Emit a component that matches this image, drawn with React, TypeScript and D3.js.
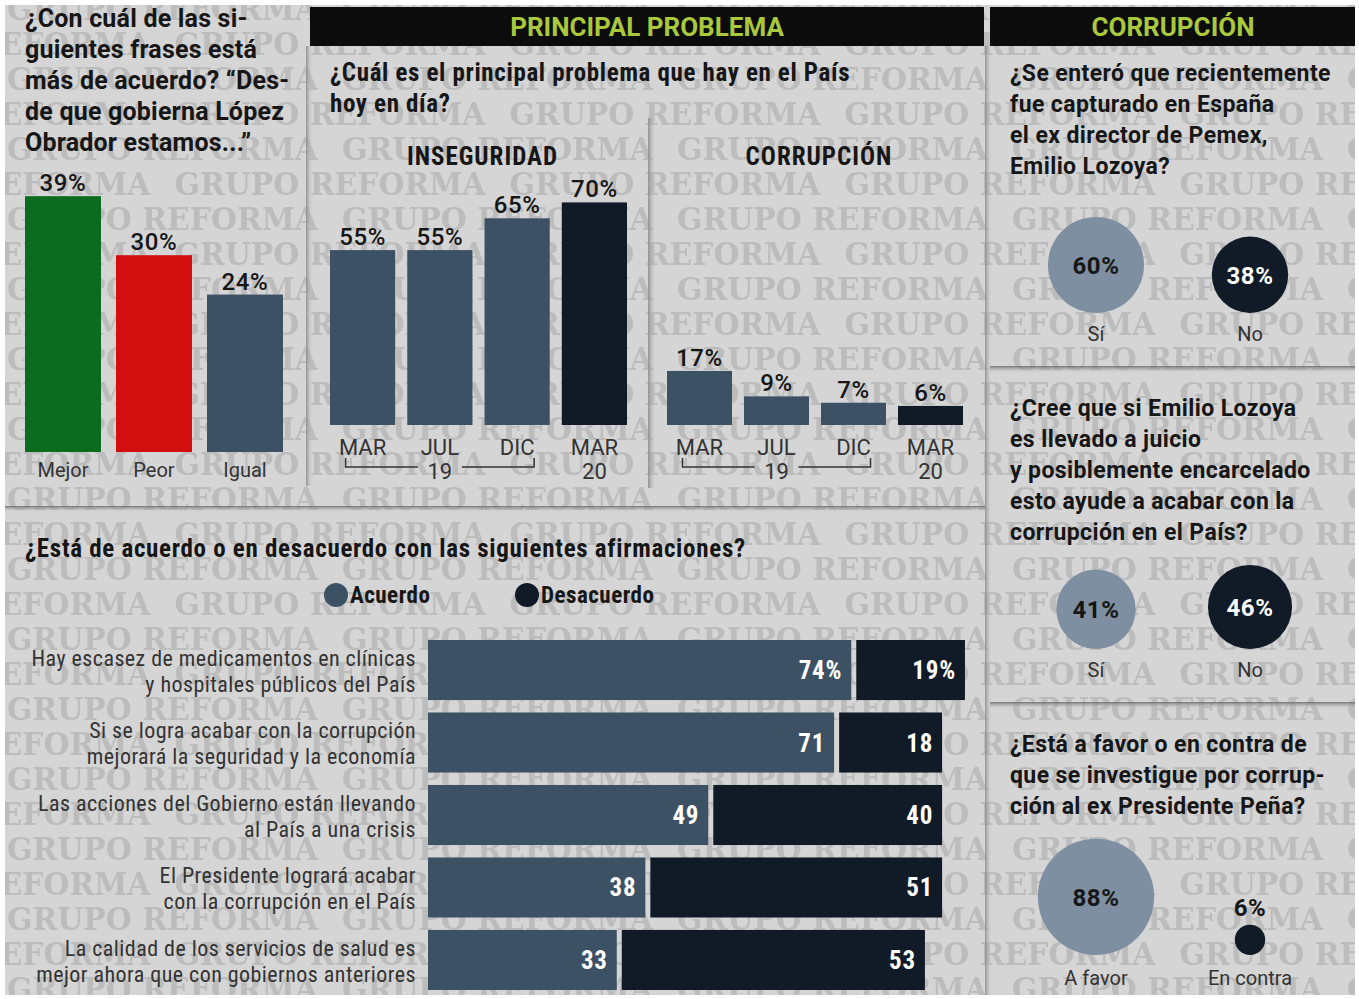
import * as d3 from "d3"

const W = 1359
const H = 999

// left panel
const verdictQuestion = [
  "¿Con cuál de las si-",
  "guientes frases está",
  "más de acuerdo? “Des-",
  "de que gobierna López",
  "Obrador estamos...”",
]
const verdictCats = ["Mejor", "Peor", "Igual"]
const verdictVals = [39, 30, 24]

// principal problema
const problemQuestion = ["¿Cuál es el principal problema que hay en el País", "hoy en día?"]
const periods = ["MAR", "JUL", "DIC", "MAR"]
const inseguridadVals = [55, 55, 65, 70]
const corrupcionVals = [17, 9, 7, 6]

// afirmaciones
const statementQuestion = "¿Está de acuerdo o en desacuerdo con las siguientes afirmaciones?"
const statements = [
  ["Hay escasez de medicamentos en clínicas", "y hospitales públicos del País"],
  ["Si se logra acabar con la corrupción", "mejorará la seguridad y la economía"],
  ["Las acciones del Gobierno están llevando", "al País a una crisis"],
  ["El Presidente logrará acabar", "con la corrupción en el País"],
  ["La calidad de los servicios de salud es", "mejor ahora que con gobiernos anteriores"],
]
const acuerdoVals = [74, 71, 49, 38, 33]
const desacuerdoVals = [19, 18, 40, 51, 53]

// corrupción (bubbles)
const capturaQuestion = [
  "¿Se enteró que recientemente",
  "fue capturado en España",
  "el ex director de Pemex,",
  "Emilio Lozoya?",
]
const capturaVals = [60, 38]
const capturaCats = ["Sí", "No"]
const juicioQuestion = [
  "¿Cree que si Emilio Lozoya",
  "es llevado a juicio",
  "y posiblemente encarcelado",
  "esto ayude a acabar con la",
  "corrupción en el País?",
]
const juicioVals = [41, 46]
const juicioCats = ["Sí", "No"]
const penaQuestion = [
  "¿Está a favor o en contra de",
  "que se investigue por corrup-",
  "ción al ex Presidente Peña?",
]
const penaVals = [88, 6]
const penaCats = ["A favor", "En contra"]

const BG = "#d5d5d5"
const WM = "#bcbcbc"
const SLATE = "#3c5163"
const NAVY = "#101b27"
const LIGHT = "#7d8fa0"
const GREEN = "#0b6b1f"
const RED = "#d20e0e"
const LIME = "#a9c83c"
const INK = "#161616"
const GREYTXT = "#333"

const SANS = "Roboto, 'Open Sans', sans-serif"
const NARROW = "'Liberation Sans Narrow', 'Roboto Condensed', 'DejaVu Sans Condensed', Roboto, sans-serif"

const WM_W = 335
const WM_H = 70

function VerdictPanel() {
  const base = 452
  const x = d3.scaleBand<string>().domain(verdictCats).range([25, 283]).paddingInner(0.165).paddingOuter(0)
  const h = d3.scaleLinear().domain([0, 100]).range([0, 656])
  const colors = [GREEN, RED, SLATE]
  return (
    <g>
      <g fontFamily={SANS} fontWeight="bold" fontSize={25} letterSpacing={0.2} fill={INK}>
        {verdictQuestion.map((l, i) => (
          <text key={i} x={25} y={27 + i * 31}>{l}</text>
        ))}
      </g>
      {verdictCats.map((c, i) => (
        <g key={c}>
          <rect x={x(c)} y={base - h(verdictVals[i])} width={x.bandwidth()} height={h(verdictVals[i])} fill={colors[i]} />
          <text x={x(c)! + x.bandwidth() / 2} y={base - h(verdictVals[i]) - 5} textAnchor="middle"
            fontFamily={SANS} fontSize={24} letterSpacing={0.6} fontWeight={500} fill={INK}>{verdictVals[i]}%</text>
          <text x={x(c)! + x.bandwidth() / 2} y={477} textAnchor="middle" fontFamily={SANS} fontSize={20} fill={GREYTXT}>{c}</text>
        </g>
      ))}
    </g>
  )
}

function PeriodBars({ x0, x1, vals, title }: { x0: number; x1: number; vals: number[]; title: string }) {
  const base = 425
  const idx = periods.map((_, i) => String(i))
  const x = d3.scaleBand<string>().domain(idx).range([x0, x1]).paddingInner(0.156).paddingOuter(0)
  const h = d3.scaleLinear().domain([0, 100]).range([0, 318])
  const cx = (i: number) => x(String(i))! + x.bandwidth() / 2
  return (
    <g>
      <text x={(x0 + x1) / 2 + 4} y={165} textAnchor="middle" fontFamily={NARROW} fontWeight="bold" fontSize={25} letterSpacing={1} fill={INK}>{title}</text>
      {vals.map((v, i) => (
        <g key={i}>
          <rect x={x(String(i))} y={base - h(v)} width={x.bandwidth()} height={h(v)} fill={i === vals.length - 1 ? NAVY : SLATE} />
          <text x={cx(i)} y={base - h(v) - 5} textAnchor="middle" fontFamily={SANS} fontSize={24} letterSpacing={0.6} fontWeight={500} fill={INK}>{v}%</text>
          <text x={cx(i)} y={455} textAnchor="middle" fontFamily={SANS} fontSize={22} fill={GREYTXT}>{periods[i]}</text>
        </g>
      ))}
      <g stroke="#333" strokeWidth={1.5} fill="none">
        <path d={`M${cx(0) - 17},${458}V${467}H${cx(1) - 22}`} />
        <path d={`M${cx(1) + 22},${467}H${cx(2) + 17}V${458}`} />
      </g>
      <text x={cx(1)} y={479} textAnchor="middle" fontFamily={SANS} fontSize={22} fill={GREYTXT}>19</text>
      <text x={cx(3)} y={479} textAnchor="middle" fontFamily={SANS} fontSize={22} fill={GREYTXT}>20</text>
    </g>
  )
}

function StatementPanel() {
  const left = 428
  const gap = 5
  const x = d3.scaleLinear().domain([0, 100]).range([0, 572])
  const y = d3.scaleBand<number>().domain(d3.range(statements.length)).range([640, 990]).paddingInner(12 / 70).paddingOuter(0)
  return (
    <g>
      <text x={25} y={557} fontFamily={NARROW} fontWeight="bold" fontSize={25} letterSpacing={0.7} fill={INK}>{statementQuestion}</text>
      <g fontFamily={NARROW} fontWeight="bold" fontSize={23} letterSpacing={0.5} fill={INK}>
        <circle cx={336} cy={595} r={12} fill={SLATE} />
        <text x={350} y={603}>Acuerdo</text>
        <circle cx={527} cy={595} r={12} fill={NAVY} />
        <text x={541} y={603}>Desacuerdo</text>
      </g>
      {statements.map((s, i) => {
        const y0 = y(i)!
        const bh = y.bandwidth()
        const a = x(acuerdoVals[i])
        const d = x(desacuerdoVals[i])
        const suffix = i === 0 ? "%" : ""
        return (
          <g key={i}>
            <g fontFamily={NARROW} fontSize={22} letterSpacing={0.45} fill={GREYTXT} textAnchor="end">
              <text x={416} y={y0 + 26}>{s[0]}</text>
              <text x={416} y={y0 + 52}>{s[1]}</text>
            </g>
            <rect x={left} y={y0} width={a} height={bh} fill={SLATE} />
            <rect x={left + a + gap} y={y0} width={d} height={bh} fill={NAVY} />
            <g fontFamily={NARROW} fontWeight="bold" fontSize={25} letterSpacing={0.8} fill="#fff" textAnchor="end">
              <text x={left + a - 9} y={y0 + bh / 2 + 9}>{acuerdoVals[i]}{suffix}</text>
              <text x={left + a + gap + d - 9} y={y0 + bh / 2 + 9}>{desacuerdoVals[i]}{suffix}</text>
            </g>
          </g>
        )
      })}
    </g>
  )
}

function Bubbles({ question, qy, vals, cats, base, labelY }: { question: string[]; qy: number; vals: number[]; cats: string[]; base: number; labelY: number }) {
  const r = d3.scaleSqrt().domain([0, 100]).range([0, 62])
  const cxs = [1096, 1250]
  return (
    <g>
      <g fontFamily={SANS} fontWeight="bold" fontSize={23} letterSpacing={0.4} fill={INK}>
        {question.map((l, i) => (
          <text key={i} x={1010} y={qy + i * 31}>{l}</text>
        ))}
      </g>
      {vals.map((v, i) => {
        const rr = r(v)
        const cy = base - rr
        const small = rr < 25
        return (
          <g key={i}>
            <circle cx={cxs[i]} cy={cy} r={rr} fill={i === 0 ? LIGHT : NAVY} />
            <text x={cxs[i]} y={small ? cy - rr - 9 : cy + 9} textAnchor="middle" fontFamily={SANS} fontWeight="bold" fontSize={24} letterSpacing={0.6}
              fill={small ? INK : i === 0 ? INK : "#fff"}>{v}%</text>
            <text x={cxs[i]} y={labelY} textAnchor="middle" fontFamily={SANS} fontSize={20} fill={GREYTXT}>{cats[i]}</text>
          </g>
        )
      })}
    </g>
  )
}

export default function App() {
  return (
    <svg width={W} height={H} style={{ position: "absolute", left: 0, top: 0, background: "#fff" }}>
      <defs>
        <linearGradient id="vshade" x1="0" x2="1" y1="0" y2="0">
          <stop offset="0" stopColor="#8a8a8a" stopOpacity={0.9} />
          <stop offset="1" stopColor="#d4d4d4" stopOpacity={0} />
        </linearGradient>
        <linearGradient id="hshade" x1="0" x2="0" y1="0" y2="1">
          <stop offset="0" stopColor="#6a6a6a" stopOpacity={0.9} />
          <stop offset="1" stopColor="#d4d4d4" stopOpacity={0} />
        </linearGradient>
        <pattern id="wm" patternUnits="userSpaceOnUse" x={-5} y={-10} width={WM_W} height={WM_H}>
          <rect width={WM_W} height={WM_H} fill={BG} />
          <g fill={WM} fontFamily="'DejaVu Serif', serif" fontWeight="bold" fontSize={31}>
            <text x={12} y={30} textLength={WM_W - 24} lengthAdjust="spacingAndGlyphs">GRUPO REFORMA</text>
            <text x={12 + WM_W / 2} y={65} textLength={WM_W - 24} lengthAdjust="spacingAndGlyphs">GRUPO REFORMA</text>
            <text x={12 - WM_W / 2} y={65} textLength={WM_W - 24} lengthAdjust="spacingAndGlyphs">GRUPO REFORMA</text>
          </g>
        </pattern>
      </defs>
      <rect x={5} y={5} width={1350} height={990} fill="url(#wm)" />
      {/* headers */}
      <rect x={310} y={7} width={674} height={39} fill="#0c0c0c" />
      <text x={647} y={36} textAnchor="middle" fontFamily={SANS} fontWeight="bold" fontSize={26} fill={LIME}>PRINCIPAL PROBLEMA</text>
      <rect x={990} y={7} width={365} height={39} fill="#0c0c0c" />
      <text x={1173} y={36} textAnchor="middle" fontFamily={SANS} fontWeight="bold" fontSize={26} fill={LIME}>CORRUPCIÓN</text>
      {/* dividers */}
      <rect x={306} y={46} width={7} height={440} fill="url(#vshade)" />
      <rect x={648} y={118} width={8} height={370} fill="url(#vshade)" />
      <rect x={985} y={46} width={7} height={949} fill="url(#vshade)" />
      <rect x={5} y={506} width={980} height={6} fill="url(#hshade)" />
      <rect x={990} y={366} width={365} height={7} fill="url(#hshade)" />
      <rect x={990} y={702} width={365} height={7} fill="url(#hshade)" />

      <VerdictPanel />
      <g fontFamily={NARROW} fontWeight="bold" fontSize={25} letterSpacing={0.65} fill={INK}>
        {problemQuestion.map((l, i) => (
          <text key={i} x={330} y={81 + i * 31}>{l}</text>
        ))}
      </g>
      <PeriodBars x0={330} x1={627} vals={inseguridadVals} title="INSEGURIDAD" />
      <PeriodBars x0={667} x1={963} vals={corrupcionVals} title="CORRUPCIÓN" />
      <StatementPanel />
      <Bubbles question={capturaQuestion} qy={81} vals={capturaVals} cats={capturaCats} base={313} labelY={341} />
      <Bubbles question={juicioQuestion} qy={416} vals={juicioVals} cats={juicioCats} base={649} labelY={677} />
      <Bubbles question={penaQuestion} qy={752} vals={penaVals} cats={penaCats} base={955} labelY={985} />
    </svg>
  )
}
